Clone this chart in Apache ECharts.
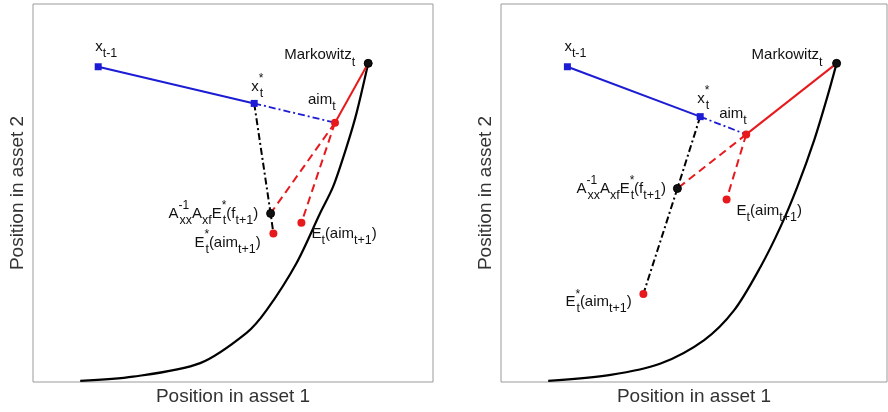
<!DOCTYPE html>
<html>
<head>
<meta charset="utf-8">
<script src="https://cdn.jsdelivr.net/npm/echarts@6/dist/echarts.min.js"></script>
<style>html,body{margin:0;padding:0;background:#fff}#c{width:888px;height:412px}</style>
</head>
<body>
<div id="c"></div>
<script>
// Point order: x_{t-1}, x_t*, aim_t, Markowitz_t, A^-1 A E*(f), E*(aim), E(aim)
const leftPtX = [16.3, 55.3, 75.5, 83.8, 59.4, 60.1, 67.1];
const leftPtY = [83.4, 73.7, 68.6, 84.3, 44.6, 39.3, 42.1];
const leftCurveX = [11.8, 25.0, 41.8, 53.4, 58.4, 65.9, 71.8, 75.0, 78.4, 80.9, 83.8];
const leftCurveY = [0.3, 1.4, 5.0, 13.0, 19.0, 31.5, 44.7, 51.6, 62.2, 71.2, 84.3];

const rightPtX = [16.6, 49.8, 61.3, 83.9, 44.1, 35.6, 56.4];
const rightPtY = [83.4, 70.2, 65.5, 84.3, 51.2, 23.3, 48.3];
const rightCurveX = [11.8, 27.4, 39.9, 50.8, 58.3, 64.9, 69.9, 74.1, 78.3, 81.6, 83.9];
const rightCurveY = [0.3, 1.9, 4.9, 11.1, 19.0, 30.5, 41.1, 51.7, 64.0, 75.5, 84.3];

const xAxisTitle = 'Position in asset 1';
const yAxisTitle = 'Position in asset 2';

const TXT = {
  xPrev: '{b|x}{sub|t-1}',
  xStar: '{b|x}{supz|*}{sub|t}',
  aim: '{b|aim}{sub|t}',
  mark: '{b|Markowitz}{sub|t}',
  A: '{b|A}{supz|-1}{sub|xx}{b|A}{sub|xf}{b|E}{supz|*}{sub|t}{b|(f}{sub|t+1}{b|)}',
  Estar: '{b|E}{supz|*}{sub|t}{b|(aim}{sub|t+1}{b|)}',
  E: '{b|E}{sub|t}{b|(aim}{sub|t+1}{b|)}'
};

const FONT = 'Liberation Sans, Arial, sans-serif';
const BLUE = '#1c1cd4', RED = '#e8191c', BLACK = '#000';
const TCOL = '#111';
const rich = {
  b: {fontSize: 15, lineHeight: 27, color: TCOL, fontFamily: FONT, verticalAlign: 'middle'},
  sub: {fontSize: 12.5, lineHeight: 12, color: TCOL, fontFamily: FONT, verticalAlign: 'bottom'},
  supz: {fontSize: 12, lineHeight: 12, color: TCOL, fontFamily: FONT, verticalAlign: 'top', width: 1, align: 'left'}
};

function panel(g, px, py, cx, cy, labels) {
  const P = i => [px[i], py[i]];
  const s = [];
  const base = {xAxisIndex: g, yAxisIndex: g, silent: true, animation: false};
  s.push(Object.assign({type: 'line', data: cx.map((x, i) => [x, cy[i]]), smooth: 0.3, symbol: 'none', lineStyle: {color: BLACK, width: 2.2}}, base));
  s.push(Object.assign({type: 'line', data: [P(0), P(1)], symbol: 'none', lineStyle: {color: BLUE, width: 2}}, base));
  s.push(Object.assign({type: 'line', data: [P(1), P(2)], symbol: 'none', lineStyle: {color: BLUE, width: 1.8, type: [7, 3, 2, 3]}}, base));
  s.push(Object.assign({type: 'line', data: [P(2), P(3)], symbol: 'none', lineStyle: {color: RED, width: 2}}, base));
  s.push(Object.assign({type: 'line', data: [P(1), P(4), P(5)], symbol: 'none', lineStyle: {color: BLACK, width: 2, type: [7, 3, 2, 3]}}, base));
  s.push(Object.assign({type: 'line', data: [P(2), P(4)], symbol: 'none', lineStyle: {color: RED, width: 2, type: [8, 5]}}, base));
  s.push(Object.assign({type: 'line', data: [P(2), P(6)], symbol: 'none', lineStyle: {color: RED, width: 2, type: [8, 5]}}, base));
  const mk = [
    {value: P(0), symbol: 'rect', symbolSize: 7, itemStyle: {color: BLUE, opacity: 1}},
    {value: P(1), symbol: 'rect', symbolSize: 7, itemStyle: {color: BLUE, opacity: 1}},
    {value: P(2), symbol: 'circle', symbolSize: 8, itemStyle: {color: RED, opacity: 1}},
    {value: P(3), symbol: 'circle', symbolSize: 8, itemStyle: {color: '#111', borderColor: BLACK, borderWidth: 1, opacity: 1}},
    {value: P(4), symbol: 'circle', symbolSize: 8, itemStyle: {color: '#111', borderColor: BLACK, borderWidth: 1, opacity: 1}},
    {value: P(5), symbol: 'circle', symbolSize: 8, itemStyle: {color: RED, opacity: 1}},
    {value: P(6), symbol: 'circle', symbolSize: 8, itemStyle: {color: RED, opacity: 1}}
  ];
  s.push(Object.assign({type: 'scatter', data: mk, z: 5}, base));
  s.push(Object.assign({
    type: 'scatter', z: 6, symbolSize: 1, itemStyle: {color: 'rgba(0,0,0,0)', opacity: 1},
    data: labels.map(l => ({value: P(l[0]), label: {show: true, opacity: 1, position: 'inside', formatter: l[1], align: 'left', verticalAlign: 'middle', offset: [l[2], l[3]], rich: rich}}))
  }, base));
  return s;
}

// [point index, text, dx, dy] (left-aligned label offsets in px)
const leftLabels = [
  [0, TXT.xPrev, -3, -20],
  [1, TXT.xStar, -3, -17],
  [2, TXT.aim, -27, -23],
  [3, TXT.mark, -84, -8],
  [4, TXT.A, -102, 0],
  [5, TXT.Estar, -79, 9],
  [6, TXT.E, 10, 11]
];
const rightLabels = [
  [0, TXT.xPrev, -3, -20],
  [1, TXT.xStar, -3, -18],
  [2, TXT.aim, -27, -21],
  [3, TXT.mark, -85, -8],
  [4, TXT.A, -101, 0],
  [5, TXT.Estar, -78, 8],
  [6, TXT.E, 10, 11]
];

function xAx(g, max) {
  return {gridIndex: g, type: 'value', min: 0, max: max, name: xAxisTitle, nameLocation: 'middle', nameGap: 5,
    nameTextStyle: {fontSize: 19, color: '#333', fontFamily: FONT, verticalAlign: 'top'},
    axisLine: {show: false}, axisTick: {show: false}, axisLabel: {show: false}, splitLine: {show: false}};
}
function yAx(g) {
  return {gridIndex: g, type: 'value', min: 0, max: 100, name: yAxisTitle, nameLocation: 'middle', nameGap: 6,
    nameTextStyle: {fontSize: 19, color: '#333', fontFamily: FONT},
    axisLine: {show: false}, axisTick: {show: false}, axisLabel: {show: false}, splitLine: {show: false}};
}

const chart = echarts.init(document.getElementById('c'), null, {renderer: 'canvas'});
chart.setOption({
  animation: false,
  backgroundColor: '#fff',
  grid: [
    {left: 33, top: 4, width: 400, height: 378, show: true, borderColor: '#9a9a9a', borderWidth: 1, backgroundColor: 'transparent'},
    {left: 501, top: 4, width: 386, height: 378, show: true, borderColor: '#9a9a9a', borderWidth: 1, backgroundColor: 'transparent'}
  ],
  xAxis: [xAx(0, 100), xAx(1, 96.5)],
  yAxis: [yAx(0), yAx(1)],
  series: panel(0, leftPtX, leftPtY, leftCurveX, leftCurveY, leftLabels)
    .concat(panel(1, rightPtX, rightPtY, rightCurveX, rightCurveY, rightLabels))
});
</script>
</body>
</html>
